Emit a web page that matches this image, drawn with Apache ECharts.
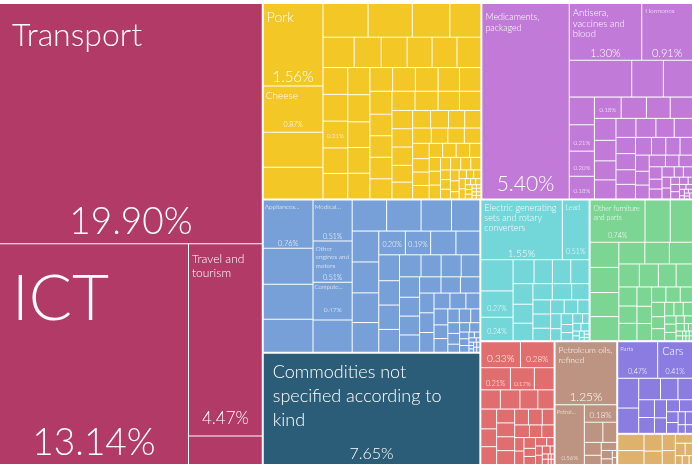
<!DOCTYPE html>
<html><head><meta charset="utf-8">
<script src="https://cdn.jsdelivr.net/npm/echarts@6/dist/echarts.min.js"></script>
<style>html,body{margin:0;padding:0;background:#fff}#c{width:692px;height:464px}</style>
</head><body><div id="c"></div>
<script>
// ---------------- DATA (shares of exports, %) ----------------
// Note: ECharts orders equal values by descending data index, so among ties
// the later entry is laid out first.
const servicesNames = ['Transport', 'ICT', 'Travel and tourism', ''];
const servicesValues = [19.90, 13.14, 4.47, 0.66];
const servicesPct = [0, 1, 2];

const foodNames = ['Pork', 'Cheese'];
const foodValues = [1.56, 0.87, 0.66, 0.60, 0.48, 0.47, 0.40, 0.33, 0.30, 0.26, 0.25, 0.24, 0.24, 0.23, 0.21, 0.21, 0.21, 0.20, 0.20,
  0.19, 0.19, 0.18, 0.18, 0.18, 0.17, 0.17, 0.17, 0.16, 0.16, 0.16, 0.15, 0.15, 0.15, 0.14, 0.14, 0.14, 0.13, 0.13,
  0.12, 0.12, 0.12, 0.11, 0.11, 0.10, 0.10, 0.09, 0.09, 0.09, 0.08, 0.08, 0.08, 0.08, 0.07, 0.07, 0.07, 0.06, 0.06, 0.06,
  0.05, 0.05, 0.05, 0.05, 0.04, 0.04, 0.04, 0.04, 0.03, 0.03, 0.03, 0.03, 0.03, 0.02, 0.02, 0.02, 0.02, 0.02, 0.02,
  0.01, 0.01, 0.01, 0.01, 0.01, 0.01, 0.005, 0.005, 0.005, 0.005, 0.005, 0.005, 0.005, 0.005];
const foodPct = [0, 1, 14];

const chemNames = ['Medicaments, packaged', 'Antisera, vaccines and blood', 'Hormones'];
const chemValues = [5.40, 1.30, 0.91, 0.73, 0.37, 0.34, 0.22, 0.21, 0.20, 0.18, 0.18, 0.17, 0.16, 0.15, 0.15, 0.14, 0.13, 0.13,
  0.12, 0.12, 0.11, 0.11, 0.10, 0.10, 0.09, 0.09, 0.09, 0.08, 0.08, 0.07, 0.07, 0.06, 0.06, 0.06, 0.05, 0.05, 0.05,
  0.04, 0.04, 0.04, 0.03, 0.03, 0.03, 0.03, 0.02, 0.02, 0.02, 0.02, 0.01, 0.01, 0.01, 0.01,
  0.005, 0.005, 0.005, 0.005, 0.005, 0.005];
const chemPct = [0, 1, 2, 7, 8, 9, 10];

const machNames = ['Appliances...', '', '', '', 'Other engines and motors', 'Medical...', 'Compute...'];
const machValues = [0.76, 0.57, 0.55, 0.52, 0.51, 0.51, 0.47, 0.40, 0.34, 0.34, 0.30, 0.28, 0.26, 0.26, 0.25, 0.25, 0.20, 0.19,
  0.19, 0.18, 0.17, 0.16, 0.16, 0.15, 0.15, 0.14, 0.14, 0.13, 0.13, 0.12, 0.12, 0.11, 0.11, 0.10, 0.10, 0.09, 0.09, 0.09,
  0.08, 0.08, 0.07, 0.07, 0.06, 0.06, 0.05, 0.05, 0.04, 0.04, 0.04, 0.03, 0.03, 0.03, 0.02, 0.02, 0.02, 0.01, 0.01, 0.01,
  0.005, 0.005, 0.005, 0.005, 0.005, 0.005, 0.005, 0.005];
const machPct = [0, 4, 5, 6, 16, 18];

const commNames = ['Commodities not specified according to kind'];
const commValues = [7.65];
const commPct = [0];

const elecNames = ['Electric generating sets and rotary converters', 'Lead'];
const elecValues = [1.55, 0.51, 0.32, 0.27, 0.24, 0.16, 0.14, 0.14, 0.14, 0.13, 0.12, 0.11, 0.10, 0.10, 0.09, 0.08, 0.08, 0.07,
  0.06, 0.06, 0.05, 0.05, 0.04, 0.04, 0.03, 0.03, 0.03, 0.02, 0.02, 0.02, 0.01, 0.01, 0.01, 0.005, 0.005, 0.005, 0.005];
const elecPct = [0, 1, 3, 4];

const furnNames = ['Other furniture and parts'];
const furnValues = [0.74, 0.34, 0.30, 0.23, 0.23, 0.22, 0.22, 0.18, 0.17, 0.16, 0.15, 0.14, 0.13, 0.12, 0.11, 0.10, 0.10, 0.09,
  0.08, 0.08, 0.07, 0.07, 0.06, 0.06, 0.05, 0.05, 0.04, 0.04, 0.04, 0.03, 0.03, 0.03, 0.02, 0.02, 0.02, 0.01, 0.01, 0.01, 0.01,
  0.005, 0.005, 0.005, 0.005, 0.005, 0.005];
const furnPct = [0];

const metalNames = [];
const metalValues = [0.33, 0.28, 0.21, 0.17, 0.14, 0.12, 0.12, 0.11, 0.10, 0.10, 0.09, 0.09, 0.08, 0.08, 0.08, 0.08, 0.07, 0.07,
  0.06, 0.06, 0.05, 0.05, 0.04, 0.04, 0.04, 0.03, 0.03, 0.03, 0.02, 0.02, 0.02, 0.02, 0.01, 0.01, 0.01,
  0.005, 0.005, 0.005, 0.005];
const metalPct = [0, 1, 2, 3];

const minNames = ['Petroleum oils, refined', 'Petrol...'];
const minValues = [1.25, 0.56, 0.18, 0.12, 0.09, 0.07, 0.05, 0.04, 0.03, 0.02, 0.01, 0.01];
const minPct = [0, 1, 2];

const vehNames = ['Parts', 'Cars'];
const vehValues = [0.47, 0.41, 0.20, 0.17, 0.15, 0.12, 0.10, 0.09, 0.08, 0.07, 0.06, 0.05, 0.05, 0.04, 0.04, 0.03, 0.03, 0.02, 0.02];
const vehPct = [0, 1];

const otherNames = [];
const otherValues = [0.14, 0.12, 0.10, 0.08, 0.07, 0.06, 0.05, 0.04, 0.03, 0.02, 0.02, 0.01];
const otherPct = [];

const groups = [
  { key: 'services', names: servicesNames, values: servicesValues, pct: servicesPct },
  { key: 'food', names: foodNames, values: foodValues, pct: foodPct },
  { key: 'chem', names: chemNames, values: chemValues, pct: chemPct },
  { key: 'mach', names: machNames, values: machValues, pct: machPct },
  { key: 'comm', names: commNames, values: commValues, pct: commPct },
  { key: 'elec', names: elecNames, values: elecValues, pct: elecPct },
  { key: 'furn', names: furnNames, values: furnValues, pct: furnPct },
  { key: 'metal', names: metalNames, values: metalValues, pct: metalPct },
  { key: 'min', names: minNames, values: minValues, pct: minPct },
  { key: 'veh', names: vehNames, values: vehValues, pct: vehPct },
  { key: 'other', names: otherNames, values: otherValues, pct: otherPct }
];

// line breaks of the labels as they appear in the picture
const WRAPPED = {
  'Travel and tourism': 'Travel and\ntourism',
  'Commodities not specified according to kind': 'Commodities not\nspecified according to\nkind',
  'Medicaments, packaged': 'Medicaments,\npackaged',
  'Antisera, vaccines and blood': 'Antisera,\nvaccines and\nblood',
  'Other engines and motors': 'Other\nengines and\nmotors',
  'Electric generating sets and rotary converters': 'Electric generating\nsets and rotary\nconverters',
  'Other furniture and parts': 'Other furniture\nand parts',
  'Petroleum oils, refined': 'Petroleum oils,\nrefined'
};

// ---------------- STYLE ----------------
const FONT = "Lato, 'Open Sans', 'DejaVu Sans', sans-serif";
const COLORS = {
  services: '#B23A67', food: '#F3C725', chem: '#C17AD8', mach: '#78A0D8', comm: '#2C5D78',
  elec: '#73D6D8', furn: '#7CD592', metal: '#E06E6E', min: '#BD9382', veh: '#8A7CE0', other: '#DEB26C'
};
// name label: [fontSize, padTop, padLeft, lineHeight]
const NAME_STYLE = {
  'Transport': [32, 14, 12, 36],
  'ICT': [64, 20, 12, 70],
  'Travel and tourism': [12, 8, 3, 14],
  'Commodities not specified according to kind': [18, 6, 9, 24],
  'Pork': [14, 5, 3, 16],
  'Cheese': [10, 3, 2, 12],
  'Medicaments, packaged': [9, 8, 3, 10.5],
  'Antisera, vaccines and blood': [9.5, 4, 3, 10.5],
  'Hormones': [6.5, 3, 3, 8],
  'Appliances...': [6.5, 2, 1, 8],
  'Medical...': [6.5, 2, 1, 8],
  'Other engines and motors': [6.5, 3, 2, 8.5],
  'Compute...': [6, 1, 1, 7],
  'Electric generating sets and rotary converters': [9, 3, 3, 10],
  'Lead': [7, 3, 3, 8],
  'Other furniture and parts': [7, 4, 3, 9],
  'Petroleum oils, refined': [8.5, 3, 3, 10],
  'Petrol...': [6, 3, 1, 7],
  'Parts': [6, 3, 2, 7],
  'Cars': [11, 3, 4, 12]
};
// percentage label: [fontSize, padBottom] aligned with each group's pct list
const PCT_STYLE = {
  services: [[37, 0], [37, 0], [17, 7]],
  food: [[15, 0], [7, 3], [6, 8]],
  chem: [[21, 2], [11, 0], [11, 0], [6, 4], [6, 4], [6, 4], [6, 4]],
  mach: [[7.5, 0], [7, 0], [7, 0], [6.5, 6], [7, 6], [7, 6]],
  comm: [[16, 1]],
  elec: [[10, 0], [7, 3], [7, 4], [7, 4]],
  furn: [[7, 2]],
  metal: [[10, 3], [8, 3], [7, 2], [6, 2]],
  min: [[12, 0], [6, 2], [8, 2]],
  veh: [[7, 2], [7, 2]],
  other: []
};

function buildData(mode) {
  return groups.map(g => ({
    name: g.key,
    itemStyle: mode === 'cells' ? { color: COLORS[g.key] } : { color: 'rgba(0,0,0,0)', borderColor: 'rgba(0,0,0,0)' },
    children: g.values.map((v, i) => {
      const item = { name: g.names[i] || '', value: v };
      if (mode === 'cells') {
        const s = NAME_STYLE[item.name];
        if (s) item.label = { fontSize: s[0], lineHeight: s[3], padding: [s[1], 0, 0, s[2]] };
      } else {
        item.itemStyle = { color: 'rgba(0,0,0,0)', borderColor: 'rgba(0,0,0,0)' };
        const k = g.pct.indexOf(i);
        if (k >= 0) {
          const s = PCT_STYLE[g.key][k];
          item.pctShown = true;
          item.label = { fontSize: s[0], lineHeight: s[0] * 1.15, padding: [0, 0, s[1], 0] };
        }
      }
      return item;
    })
  }));
}

const common = {
  type: 'treemap',
  left: 0, top: 4, width: 692, height: 460,
  squareRatio: 1,
  sort: 'desc',
  roam: false,
  nodeClick: false,
  breadcrumb: { show: false },
  visibleMin: 0,
  drillDownIcon: '',
  animation: false
};

const chart = echarts.init(document.getElementById('c'), null, { renderer: 'canvas' });
chart.setOption({
  animation: false,
  series: [
    Object.assign({}, common, {
      name: 'cells',
      data: buildData('cells'),
      levels: [
        { itemStyle: { borderWidth: 0, gapWidth: 2, borderColor: '#fff' } },
        { itemStyle: { borderWidth: 0, gapWidth: 1, borderColor: 'rgba(255,255,255,0.85)' } },
        { itemStyle: { borderWidth: 0, gapWidth: 0 } }
      ],
      label: {
        show: true, position: 'insideTopLeft', distance: 0, color: '#fff',
        fontFamily: FONT, fontWeight: 300, fontSize: 7, overflow: 'none',
        textBorderWidth: 0, formatter: p => WRAPPED[p.name] || p.name
      },
      upperLabel: { show: false },
      emphasis: { disabled: true }
    }),
    Object.assign({}, common, {
      name: 'pct',
      silent: true,
      color: ['rgba(0,0,0,0)'],
      data: buildData('pct'),
      levels: [
        { itemStyle: { borderWidth: 0, gapWidth: 2, borderColor: 'rgba(0,0,0,0)', color: 'rgba(0,0,0,0)' } },
        { itemStyle: { borderWidth: 0, gapWidth: 1, borderColor: 'rgba(0,0,0,0)' } },
        { itemStyle: { borderWidth: 0, gapWidth: 0 } }
      ],
      label: {
        show: true, position: 'insideBottom', distance: 0, color: '#fff',
        fontFamily: FONT, fontWeight: 300, fontSize: 7, overflow: 'none',
        textBorderWidth: 0,
        formatter: p => (p.data && p.data.pctShown) ? p.value.toFixed(2) + '%' : ''
      },
      upperLabel: { show: false },
      emphasis: { disabled: true }
    })
  ]
});
</script>
</body></html>
